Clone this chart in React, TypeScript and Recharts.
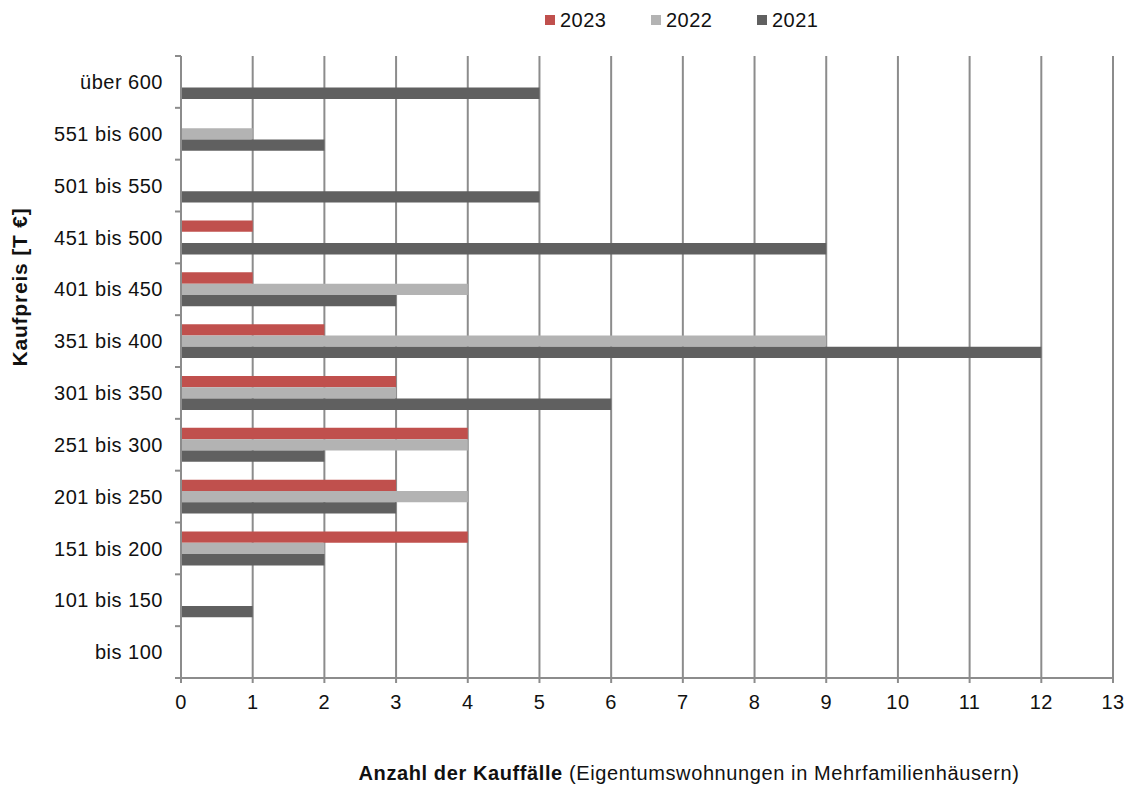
import { BarChart, Bar, XAxis, YAxis, CartesianGrid, Legend } from "recharts"

const CATEGORIES = [
  "über 600",
  "551 bis 600",
  "501 bis 550",
  "451 bis 500",
  "401 bis 450",
  "351 bis 400",
  "301 bis 350",
  "251 bis 300",
  "201 bis 250",
  "151 bis 200",
  "101 bis 150",
  "bis 100",
]
const VALUES_2023 = [0, 0, 0, 1, 1, 2, 3, 4, 3, 4, 0, 0]
const VALUES_2022 = [0, 1, 0, 0, 4, 9, 3, 4, 4, 2, 0, 0]
const VALUES_2021 = [5, 2, 5, 9, 3, 12, 6, 2, 3, 2, 1, 0]
const X_TICKS = [0, 1, 2, 3, 4, 5, 6, 7, 8, 9, 10, 11, 12, 13]

const SERIES = [
  { key: "y2023", name: "2023", color: "#c0504d" },
  { key: "y2022", name: "2022", color: "#b3b3b3" },
  { key: "y2021", name: "2021", color: "#606060" },
]

const FONT = "'Liberation Sans', Arial, sans-serif"
const LINE = "#8c8c8c"
const TICK_SIZE = 5
const TICK_MARGIN = 13

const data = CATEGORIES.map((name, i) => ({
  name,
  y2023: VALUES_2023[i],
  y2022: VALUES_2022[i],
  y2021: VALUES_2021[i],
}))

const YTick = (props: any) => {
  const { x, y, payload, index } = props
  const half = payload?.offset || 25.9
  const axisX = x + TICK_SIZE + TICK_MARGIN
  return (
    <g>
      <line x1={axisX - 6} x2={axisX} y1={y - half} y2={y - half} stroke={LINE} strokeWidth={2} />
      {index === CATEGORIES.length - 1 && (
        <line x1={axisX - 6} x2={axisX} y1={y + half} y2={y + half} stroke={LINE} strokeWidth={2} />
      )}
      <text x={x} y={y} dy="0.355em" textAnchor="end" fill="#111" fontSize={20} letterSpacing={0.5} fontFamily={FONT}>
        {payload.value}
      </text>
    </g>
  )
}

// legend in the series order (recharts flips it in vertical layout)
const LegendContent = () => (
  <div style={{ display: "flex", fontFamily: FONT, fontSize: 20, letterSpacing: 0.5, color: "#111" }}>
    {SERIES.map((s) => (
      <div key={s.key} style={{ display: "flex", alignItems: "center", width: 106 }}>
        <span style={{ display: "inline-block", width: 10, height: 10, background: s.color, marginRight: 5 }} />
        <span style={{ lineHeight: "24px" }}>{s.name}</span>
      </div>
    ))}
  </div>
)

export default function App() {
  return (
    <div style={{ position: "relative", width: 1129, height: 787, fontFamily: FONT }}>
      <style>{"body { margin: 0; }"}</style>
      <BarChart
        width={1129}
        height={787}
        data={data}
        layout="vertical"
        margin={{ top: 56, right: 16, left: 0, bottom: 69 }}
        barGap={0}
        barSize={11.3}
      >
        <CartesianGrid horizontal={false} vertical stroke={LINE} strokeWidth={2} />
        <XAxis
          type="number"
          domain={[0, 13]}
          ticks={X_TICKS}
          interval={0}
          height={40}
          tickSize={TICK_SIZE}
          tickMargin={12}
          axisLine={{ stroke: LINE, strokeWidth: 2 }}
          tickLine={{ stroke: LINE, strokeWidth: 2 }}
          tick={{ fill: "#111", fontSize: 20, fontFamily: FONT, letterSpacing: 0.5 }}
        />
        <YAxis
          type="category"
          dataKey="name"
          width={181}
          interval={0}
          tickSize={TICK_SIZE}
          tickMargin={TICK_MARGIN}
          tickLine={false}
          axisLine={{ stroke: LINE, strokeWidth: 2 }}
          tick={<YTick />}
        />
        <Legend
          verticalAlign="middle"
          align="center"
          wrapperStyle={{ top: 8, left: 545, width: "auto" }}
          content={<LegendContent />}
        />
        {SERIES.map((s) => (
          <Bar key={s.key} dataKey={s.key} name={s.name} fill={s.color} isAnimationActive={false} />
        ))}
      </BarChart>
      <div
        style={{
          position: "absolute",
          left: 20,
          top: 287,
          transform: "translate(-50%, -50%) rotate(-90deg)",
          whiteSpace: "nowrap",
          fontWeight: "bold",
          fontSize: 21,
          letterSpacing: 0.8,
          color: "#111",
        }}
      >
        Kaufpreis [T €]
      </div>
      <div
        style={{
          position: "absolute",
          left: 689,
          top: 762,
          transform: "translateX(-50%)",
          whiteSpace: "nowrap",
          fontSize: 20,
          letterSpacing: 0.6,
          lineHeight: "22px",
          color: "#111",
        }}
      >
        <b>Anzahl der Kauffälle</b> (Eigentumswohnungen in Mehrfamilienhäusern)
      </div>
    </div>
  )
}
